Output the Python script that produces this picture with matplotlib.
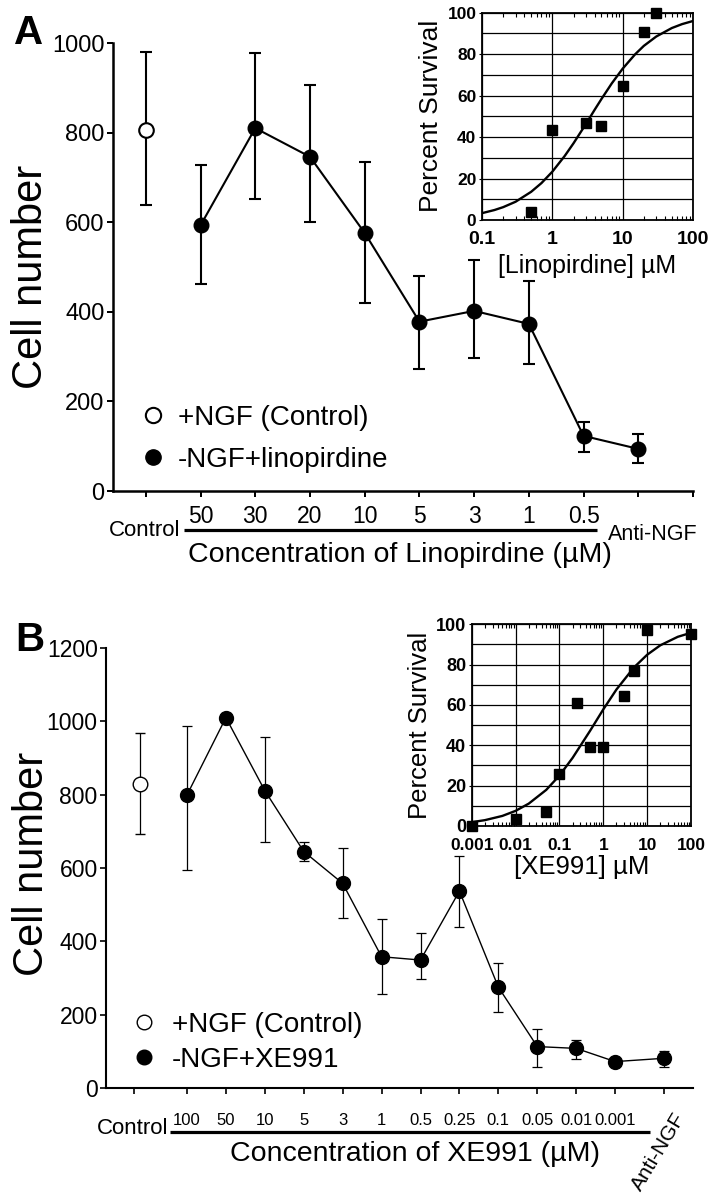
import matplotlib.pyplot as plt
import matplotlib.transforms as mtransforms
from matplotlib.lines import Line2D
from matplotlib import font_manager

W, H = 714, 1199
plt.rcParams['font.family'] = ['Liberation Sans', 'DejaVu Sans']

# ---------- Panel A data (linopirdine) ----------
lino_labels = ['50', '30', '20', '10', '5', '3', '1', '0.5']
lino_mean = [593, 810, 746, 576, 378, 402, 373, 123]
lino_hi = [728, 977, 906, 735, 480, 515, 469, 155]
lino_lo = [463, 652, 600, 420, 272, 296, 283, 88]
ctrl_a = [806, 980, 638]      # mean, upper, lower
anti_a = [94, 127, 62]

# inset A: percent survival
lino_conc = [0.5, 1, 3, 5, 10, 20, 30]
lino_surv = [4, 43.5, 47, 45.5, 64.5, 90.5, 100]
# fitted curve
lino_fit_x = [0.1, 0.15, 0.2, 0.3, 0.5, 0.7, 1, 1.5, 2, 3, 4, 5, 7, 10, 15, 20, 30, 50, 70, 100]
lino_fit_y = [3.3, 4.8, 6.2, 8.8, 13.6, 17.8, 23.3, 30.9, 37.0, 46.3, 53.2, 58.4, 65.9, 73.0,
              79.9, 84.0, 88.5, 92.6, 94.5, 96.0]
ins_a_ticks = ['0.1', '1', '10', '100']

# ---------- Panel B data (XE991) ----------
xe_labels = ['100', '50', '10', '5', '3', '1', '0.5', '0.25', '0.1', '0.05', '0.01', '0.001']
xe_mean = [799, 1010, 811, 645, 558, 358, 349, 537, 275, 113, 108, 72]
xe_hi = [987, 1024, 958, 670, 655, 460, 424, 634, 340, 161, 132, 80]
xe_lo = [594, 996, 672, 620, 465, 256, 296, 440, 206, 56, 80, 64]
ctrl_b = [829, 967, 692]
anti_b = [81, 100, 58]

xe_conc = [0.001, 0.01, 0.05, 0.1, 0.25, 0.5, 1, 3, 5, 10, 100]
xe_surv = [0, 3.5, 7, 26, 61, 39, 39, 64.5, 77, 97, 95]
xe_fit_x = [0.001, 0.002, 0.005, 0.01, 0.02, 0.05, 0.1, 0.2, 0.5, 1, 2, 5, 10, 20, 50, 100]
xe_fit_y = [1.9, 2.9, 5.0, 7.5, 11.1, 17.9, 25.0, 33.8, 47.2, 57.8, 67.7, 78.6, 84.9, 89.6, 93.8, 95.8]
ins_b_ticks = ['0.001', '0.01', '0.1', '1', '10', '100']


def box(l, t, r, b):
    return [l / W, 1 - b / H, (r - l) / W, (b - t) / H]


def fy(y):
    return 1 - y / H


fig = plt.figure(figsize=(W / 100, H / 100), dpi=100)

names = {f.name for f in font_manager.fontManager.ttflist}
narrow = 'Liberation Sans Narrow' in names


def style_main(ax, lw):
    for s in ['top', 'right']:
        ax.spines[s].set_visible(False)
    for s in ['left', 'bottom']:
        ax.spines[s].set_linewidth(lw)
    ax.tick_params(axis='both', direction='out', length=4, width=lw * 0.8, colors='k')


def style_inset(ax):
    ax.set_xscale('log')
    ax.set_ylim(0, 100)
    ax.set_yticks(range(0, 101, 20))
    ax.set_yticks(range(10, 100, 20), minor=True)
    ax.set_axisbelow(True)
    ax.grid(True, which='both', axis='y', color='k', lw=0.9)
    ax.grid(True, which='major', axis='x', color='k', lw=0.9)
    ax.tick_params(axis='x', which='minor', direction='in', length=3, width=0.8, top=True, bottom=True)
    ax.tick_params(axis='x', which='major', direction='in', length=0, pad=8)
    ax.tick_params(axis='y', which='major', direction='out', length=2, pad=2)
    ax.tick_params(axis='y', which='minor', length=0)
    for s in ax.spines.values():
        s.set_linewidth(1.3)


# ================= Panel A =================
axA = fig.add_axes(box(113, 43, 693, 491))
style_main(axA, 1.8)
xa = list(range(2, 2 + len(lino_labels))) + [2 + len(lino_labels)]
ya = lino_mean + [anti_a[0]]
hia = lino_hi + [anti_a[1]]
loa = lino_lo + [anti_a[2]]
axA.errorbar(xa, ya, yerr=[[m - l for m, l in zip(ya, loa)], [h - m for m, h in zip(ya, hia)]],
             fmt='-o', color='k', ms=10.5, lw=1.5, elinewidth=1.5, capsize=4, capthick=1.5)
axA.errorbar([1], [ctrl_a[0]], yerr=[[ctrl_a[0] - ctrl_a[2]], [ctrl_a[1] - ctrl_a[0]]],
             fmt='o', color='k', mfc='white', mec='k', mew=1.5, ms=10.5,
             elinewidth=1.5, capsize=4, capthick=1.5)
axA.set_xlim(0.4, 11)
axA.set_ylim(0, 1000)
axA.set_yticks(range(0, 1001, 200))
axA.tick_params(axis='y', labelsize=17, pad=2)
axA.set_xticks(range(1, 12))
axA.set_xticklabels([''] + lino_labels + ['', ''], fontsize=16.5)
axA.tick_params(axis='x', pad=6)
axA.set_ylabel('Cell number', fontsize=30)
axA.yaxis.set_label_coords(-0.107, 0.478)

tA = mtransforms.blended_transform_factory(axA.transData, fig.transFigure)
axA.text(1.64, fy(530), 'Control', ha='right', va='center', fontsize=16, transform=tA)
axA.plot([1.69, 9.25], [fy(530), fy(530)], transform=tA, color='k', lw=2.3,
         clip_on=False, solid_capstyle='butt')
axA.text(9.45, fy(534), 'Anti-NGF', ha='left', va='center', fontsize=15.5, transform=tA)
fig.text(400 / W, fy(555), 'Concentration of Linopirdine (µM)', ha='center', va='center',
         fontsize=20.5)

hA = [Line2D([], [], marker='o', ls='none', mfc='white', mec='k', mew=1.5, ms=11),
      Line2D([], [], marker='o', ls='none', color='k', ms=11)]
axA.legend(hA, ['+NGF (Control)', '-NGF+linopirdine'], loc='upper left',
           bbox_to_anchor=(142 / W, fy(405)), bbox_transform=fig.transFigure, frameon=False,
           fontsize=20, handlelength=0.8, handletextpad=0.5, labelspacing=0.58,
           borderpad=0, borderaxespad=0)

fig.text(29 / W, fy(33), 'A', fontsize=29, weight='bold', ha='center', va='center')

# inset A
insA = fig.add_axes(box(482, 12.7, 693, 220))
style_inset(insA)
insA.plot(lino_fit_x, lino_fit_y, color='k', lw=1.7)
insA.plot(lino_conc, lino_surv, 's', color='k', ms=7, clip_on=False)
insA.set_xlim(0.1, 100)
insA.set_xticks([0.1, 1, 10, 100])
insA.set_xticklabels(ins_a_ticks, fontsize=14, weight='bold')
insA.set_yticklabels([str(v) for v in range(0, 101, 20)], fontsize=12.5, weight='bold')
insA.set_ylabel('Percent Survival', fontsize=19, labelpad=3)
insA.set_xlabel('[Linopirdine] µM', fontsize=18, labelpad=4)

# ================= Panel B =================
axB = fig.add_axes(box(106, 648, 693, 1088))
style_main(axB, 1.5)
xb = list(range(len(xe_labels))) + [12.25]
yb = xe_mean + [anti_b[0]]
hib = xe_hi + [anti_b[1]]
lob = xe_lo + [anti_b[2]]
axB.errorbar(xb, yb, yerr=[[m - l for m, l in zip(yb, lob)], [h - m for m, h in zip(yb, hib)]],
             fmt='-o', color='k', ms=10, lw=1.0, elinewidth=0.9, capsize=3.5, capthick=0.9)
axB.errorbar([-1.2], [ctrl_b[0]], yerr=[[ctrl_b[0] - ctrl_b[2]], [ctrl_b[1] - ctrl_b[0]]],
             fmt='o', color='k', mfc='white', mec='k', mew=1.0, ms=10.5,
             elinewidth=0.9, capsize=3.5, capthick=0.9)
axB.set_xlim(-2.08, 13.0)
axB.set_ylim(0, 1200)
axB.set_yticks(range(0, 1201, 200))
axB.tick_params(axis='y', labelsize=16.5, pad=2)
axB.set_xticks([-1.35] + list(range(len(xe_labels))) + [12.25])
if narrow:
    axB.set_xticklabels([''] + xe_labels + [''], fontsize=15.5, family='Liberation Sans Narrow')
else:
    axB.set_xticklabels([''] + xe_labels + [''], fontsize=12)
axB.tick_params(axis='x', pad=14)
axB.set_ylabel('Cell number', fontsize=30)
axB.yaxis.set_label_coords(-0.092, 0.509)

tB = mtransforms.blended_transform_factory(axB.transData, fig.transFigure)
axB.text(-0.49, fy(1128), 'Control', ha='right', va='center', fontsize=16, transform=tB)
axB.plot([-0.44, 11.9], [fy(1132), fy(1132)], transform=tB, color='k', lw=2.3,
         clip_on=False, solid_capstyle='butt')
fig.text(659 / W, fy(1152), 'Anti-NGF', rotation=59, ha='center', va='center', fontsize=15)
fig.text(415 / W, fy(1154), 'Concentration of XE991 (µM)', ha='center', va='center',
         fontsize=20.5)

hB = [Line2D([], [], marker='o', ls='none', mfc='white', mec='k', mew=1.0, ms=10.5),
      Line2D([], [], marker='o', ls='none', color='k', ms=10.5)]
axB.legend(hB, ['+NGF (Control)', '-NGF+XE991'], loc='upper left',
           bbox_to_anchor=(133 / W, fy(1012)), bbox_transform=fig.transFigure, frameon=False,
           fontsize=20, handlelength=0.8, handletextpad=0.6, labelspacing=0.32,
           borderpad=0, borderaxespad=0)

fig.text(30 / W, fy(640), 'B', fontsize=29, weight='bold', ha='center', va='center')

# inset B
insB = fig.add_axes(box(471.7, 624.3, 691, 826))
style_inset(insB)
insB.plot(xe_fit_x, xe_fit_y, color='k', lw=1.7)
insB.plot(xe_conc, xe_surv, 's', color='k', ms=7.5, clip_on=False)
insB.set_xlim(0.001, 100)
insB.set_xticks([0.001, 0.01, 0.1, 1, 10, 100])
insB.set_xticklabels(ins_b_ticks, fontsize=12.5, weight='bold')
insB.tick_params(axis='x', which='major', pad=9)
insB.set_yticklabels([str(v) for v in range(0, 101, 20)], fontsize=13, weight='bold')
insB.set_ylabel('Percent Survival', fontsize=18.5, labelpad=3)
insB.set_xlabel('[XE991] µM', fontsize=18.5, labelpad=1)

fig.savefig('out.png', dpi=100)
